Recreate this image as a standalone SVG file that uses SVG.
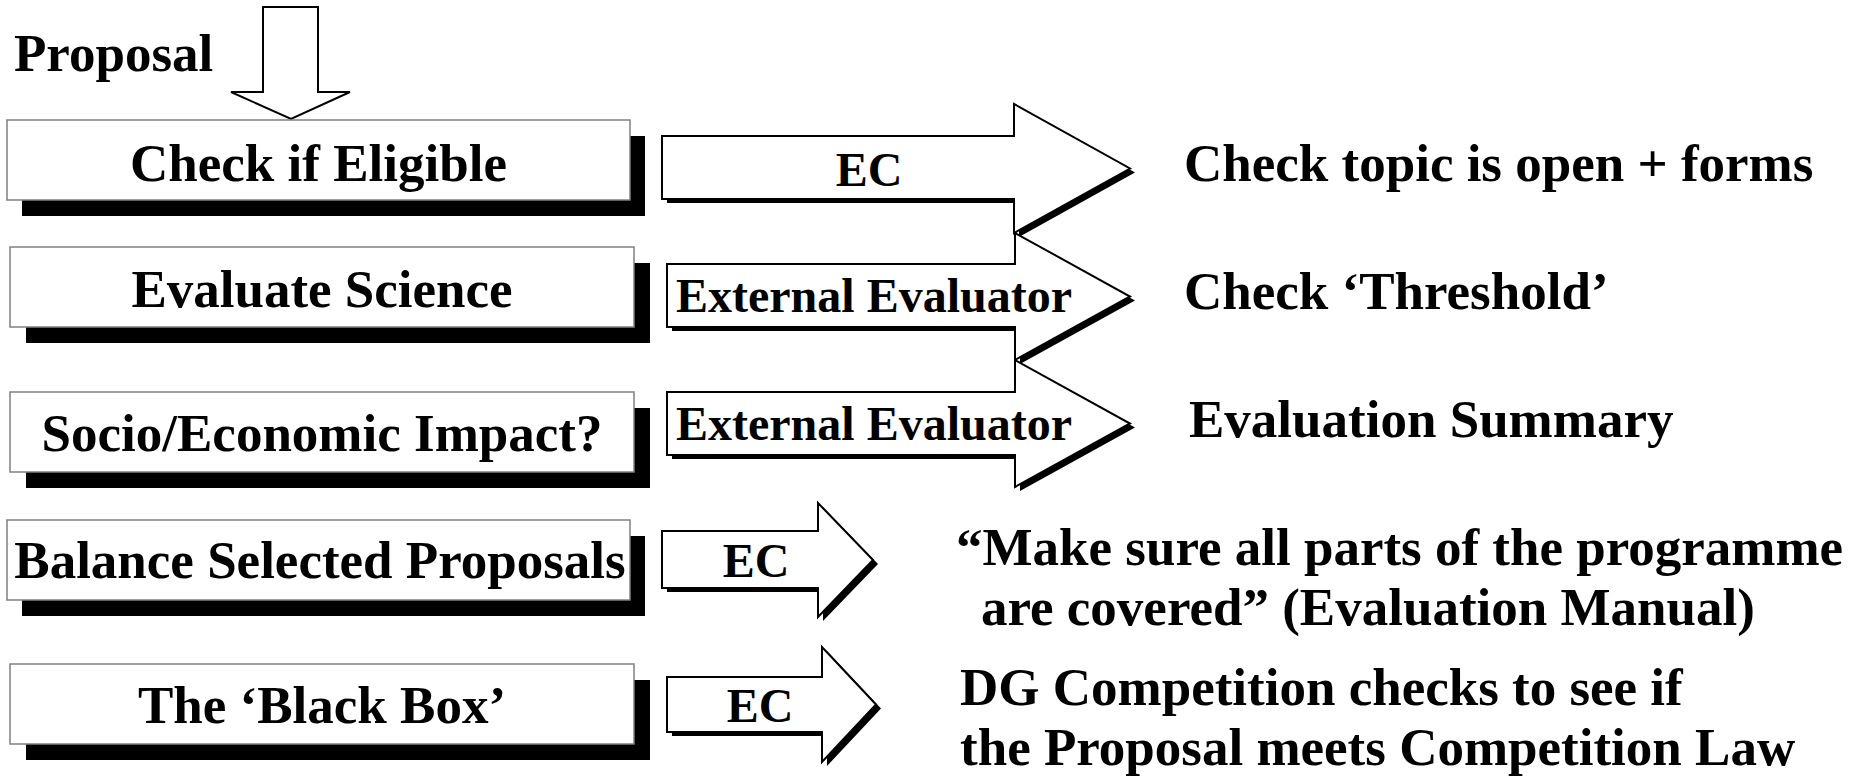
<svg xmlns="http://www.w3.org/2000/svg" width="1870" height="781" viewBox="0 0 1870 781">
<style>
  .t { font-family: "Liberation Serif", "Times New Roman", serif; font-weight: bold; fill: #000; }
  .big { font-size: 53px; }
  .lab { font-size: 48px; }
  .mid { text-anchor: middle; }
  .box { fill: #fff; stroke: #808080; stroke-width: 1.5; }
  .boxsh { fill: #000; }
  .arr { fill: #fff; stroke: #000; stroke-width: 2; stroke-linejoin: miter; }
  .arrsh { fill: #000; }
</style>
<rect width="1870" height="781" fill="#fff"/>

<text class="t big" x="14" y="71">Proposal</text>

<g id="connectors">
  <path class="arr" d="M263,7 H318 V92 H350 L291,119 L231,92 H263 Z"/>
</g>

<g id="node-check-eligible">
  <rect class="boxsh" x="22" y="136" width="623" height="80"/>
  <rect class="box" x="7" y="120" width="623" height="80"/>
  <text class="t big mid" x="318.5" y="181">Check if Eligible</text>
</g>
<g id="node-evaluate-science">
  <rect class="boxsh" x="26" y="263" width="624" height="80"/>
  <rect class="box" x="10" y="247" width="624" height="80"/>
  <text class="t big mid" x="322" y="307">Evaluate Science</text>
</g>
<g id="node-socio-economic">
  <rect class="boxsh" x="26" y="408" width="624" height="80"/>
  <rect class="box" x="10" y="392" width="624" height="80"/>
  <text class="t big mid" x="322" y="451">Socio/Economic Impact?</text>
</g>
<g id="node-balance">
  <rect class="boxsh" x="22" y="536" width="623" height="80"/>
  <rect class="box" x="7" y="520" width="623" height="80"/>
  <text class="t big mid" x="320" y="578">Balance Selected Proposals</text>
</g>
<g id="node-black-box">
  <rect class="boxsh" x="26" y="680" width="624" height="80"/>
  <rect class="box" x="10" y="664" width="624" height="80"/>
  <text class="t big mid" x="322" y="723">The ‘Black Box’</text>
</g>

<g id="arrow-ec-1">
  <path class="arrsh" transform="translate(5,4)" d="M662,136 H1014 V104 L1130,168.5 L1014,233 V199 H662 Z"/>
  <path class="arr" d="M662,136 H1014 V104 L1130,168.5 L1014,233 V199 H662 Z"/>
  <text class="t lab mid" x="869" y="186">EC</text>
</g>
<g id="arrow-external-1">
  <path class="arrsh" transform="translate(5,4)" d="M667,264 H1015 V233 L1130,296.5 L1015,360 V327 H667 Z"/>
  <path class="arr" d="M667,264 H1015 V233 L1130,296.5 L1015,360 V327 H667 Z"/>
  <text class="t lab" x="676" y="312">External Evaluator</text>
</g>
<g id="arrow-external-2">
  <path class="arrsh" transform="translate(5,4)" d="M667,392 H1015 V360 L1130,423.5 L1015,487 V455 H667 Z"/>
  <path class="arr" d="M667,392 H1015 V360 L1130,423.5 L1015,487 V455 H667 Z"/>
  <text class="t lab" x="676" y="440">External Evaluator</text>
</g>
<g id="arrow-ec-2">
  <path class="arrsh" transform="translate(5,4)" d="M662,531 H818 V503 L873,560 L818,617 V588 H662 Z"/>
  <path class="arr" d="M662,531 H818 V503 L873,560 L818,617 V588 H662 Z"/>
  <text class="t lab mid" x="756" y="577">EC</text>
</g>
<g id="arrow-ec-3">
  <path class="arrsh" transform="translate(5,4)" d="M667,677 H822 V647 L876,704.5 L822,762 V732 H667 Z"/>
  <path class="arr" d="M667,677 H822 V647 L876,704.5 L822,762 V732 H667 Z"/>
  <text class="t lab mid" x="760" y="722">EC</text>
</g>

<g id="notes">
  <text class="t big" x="1184" y="181">Check topic is open + forms</text>
  <text class="t big" x="1184" y="309">Check ‘Threshold’</text>
  <text class="t big" x="1189" y="437">Evaluation Summary</text>
  <text class="t big" x="956" y="565">“Make sure all parts of the programme</text>
  <text class="t big" x="981" y="625">are covered” (Evaluation Manual)</text>
  <text class="t big" x="960" y="705">DG Competition checks to see if</text>
  <text class="t big" x="960" y="765">the Proposal meets Competition Law</text>
</g>
</svg>
